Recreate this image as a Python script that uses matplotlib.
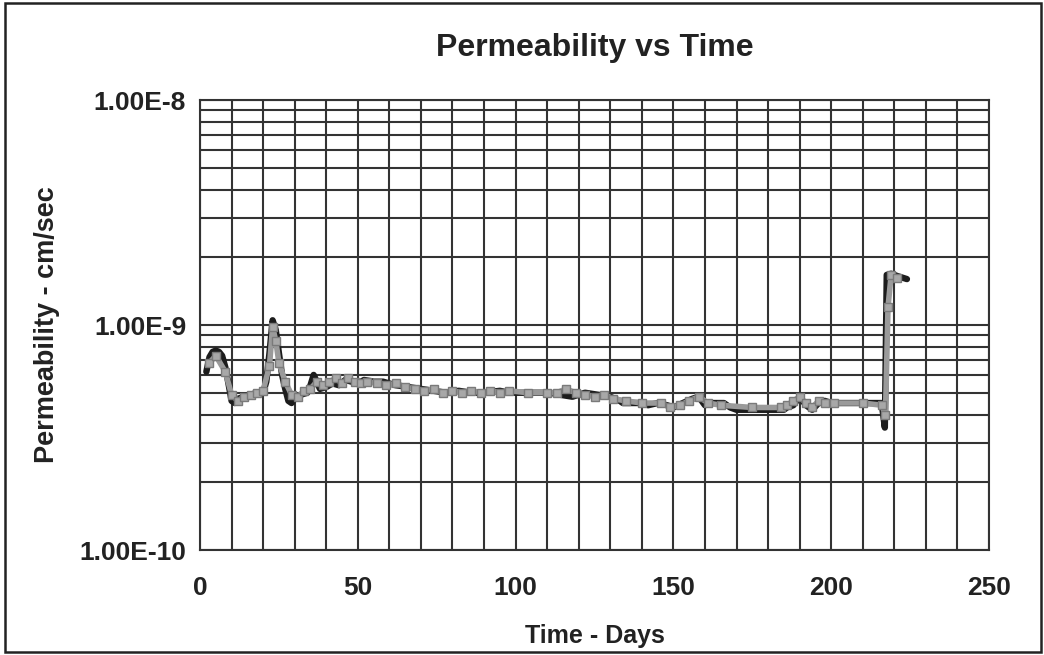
import matplotlib
matplotlib.use("Agg")
import matplotlib.pyplot as plt
from matplotlib.ticker import FixedLocator, FuncFormatter, MultipleLocator
from matplotlib.patches import Rectangle

plt.rcParams['font.family'] = ['Liberation Sans', 'DejaVu Sans']
plt.rcParams['font.weight'] = 'bold'

# dati (giorni, permeabilita' cm/sec)
black_days = [2, 3, 4, 5, 6, 7, 8, 9, 10, 11, 12, 14, 16, 18, 20, 21, 22, 23, 24, 25,
              26, 27, 28, 29, 30, 32, 34, 35, 36, 37, 38, 40, 42, 44, 46, 48, 50, 52,
              55, 58, 62, 66, 70, 74, 78, 82, 86, 90, 95, 98, 104, 111, 114, 118, 122,
              126, 130, 133, 134, 140, 142, 145, 148, 150, 153, 156, 158, 160, 162, 166,
              168, 170, 178, 185, 186, 188, 190, 192, 194, 196, 198, 200, 205, 210, 216,
              217, 217.6, 219, 221, 224]
black_perm = [6.2e-10, 7.2e-10, 7.6e-10, 7.7e-10, 7.6e-10, 7.3e-10, 6.5e-10, 5.5e-10,
              4.6e-10, 4.5e-10, 4.7e-10, 4.8e-10, 4.9e-10, 5.0e-10, 5.0e-10, 5.6e-10,
              7.5e-10, 1.05e-9, 9.5e-10, 7.5e-10, 6.0e-10, 5.2e-10, 4.6e-10, 4.5e-10,
              4.7e-10, 4.9e-10, 5.0e-10, 5.4e-10, 6.0e-10, 5.6e-10, 5.2e-10, 5.3e-10,
              5.5e-10, 5.4e-10, 5.7e-10, 5.6e-10, 5.5e-10, 5.7e-10, 5.6e-10, 5.6e-10,
              5.4e-10, 5.3e-10, 5.2e-10, 5.1e-10, 5.0e-10, 5.1e-10, 5.0e-10, 5.0e-10,
              5.1e-10, 5.0e-10, 5.0e-10, 5.0e-10, 4.9e-10, 4.8e-10, 5.0e-10, 4.9e-10,
              4.8e-10, 4.6e-10, 4.5e-10, 4.5e-10, 4.4e-10, 4.5e-10, 4.4e-10, 4.3e-10,
              4.5e-10, 4.7e-10, 4.8e-10, 4.4e-10, 4.5e-10, 4.5e-10, 4.3e-10, 4.2e-10,
              4.2e-10, 4.2e-10, 4.3e-10, 4.4e-10, 4.8e-10, 4.4e-10, 4.2e-10, 4.5e-10,
              4.6e-10, 4.5e-10, 4.5e-10, 4.5e-10, 4.5e-10, 3.5e-10, 1.67e-9, 1.69e-9,
              1.65e-9, 1.6e-9]

gray_days = [3, 5, 8, 10, 12, 14, 16, 18, 20, 22, 23, 24, 25, 27, 29, 31, 33, 35, 37,
             39, 41, 43, 45, 47, 49, 51, 53, 56, 59, 62, 65, 68, 71, 74, 77, 80, 83,
             86, 89, 92, 95, 98, 104, 110, 113, 116, 119, 122, 125, 128, 131, 135,
             140, 146, 149, 152, 155, 158, 161, 165, 175, 184, 186, 188, 190, 192,
             194, 196, 198, 201, 210, 216, 217.2, 218, 219, 221]
gray_perm = [6.8e-10, 7.3e-10, 6.2e-10, 4.9e-10, 4.6e-10, 4.8e-10, 4.9e-10, 5.0e-10,
             5.1e-10, 6.6e-10, 9.8e-10, 8.5e-10, 6.8e-10, 5.6e-10, 4.9e-10, 4.8e-10,
             5.1e-10, 5.2e-10, 5.6e-10, 5.4e-10, 5.6e-10, 5.8e-10, 5.5e-10, 5.8e-10,
             5.6e-10, 5.5e-10, 5.6e-10, 5.5e-10, 5.4e-10, 5.5e-10, 5.3e-10, 5.2e-10,
             5.1e-10, 5.2e-10, 5.0e-10, 5.1e-10, 5.0e-10, 5.1e-10, 5.0e-10, 5.1e-10,
             5.0e-10, 5.1e-10, 5.0e-10, 5.0e-10, 5.0e-10, 5.2e-10, 5.0e-10, 4.9e-10,
             4.8e-10, 4.9e-10, 4.7e-10, 4.6e-10, 4.5e-10, 4.5e-10, 4.3e-10, 4.4e-10,
             4.6e-10, 4.8e-10, 4.5e-10, 4.4e-10, 4.3e-10, 4.3e-10, 4.4e-10, 4.6e-10,
             4.8e-10, 4.5e-10, 4.3e-10, 4.6e-10, 4.5e-10, 4.5e-10, 4.5e-10, 4.4e-10,
             4.0e-10, 1.2e-9, 1.67e-9, 1.62e-9]

x_ticks = [0, 50, 100, 150, 200, 250]
y_ticks = [1e-10, 1e-9, 1e-8]

fig = plt.figure(figsize=(10.44, 6.55), dpi=100)
ax = fig.add_axes([0.1916, 0.1603, 0.7557, 0.687])

# bordo esterno del grafico
fig.patches.append(Rectangle((5 / 1044, 3 / 655), 1036 / 1044, 649 / 655,
                             transform=fig.transFigure, fill=False,
                             edgecolor='#222222', linewidth=1.8))

ax.plot(black_days, black_perm, color='#1c1c1c', linewidth=4.6,
        solid_joinstyle='round', solid_capstyle='round', zorder=3)
ax.plot(gray_days, gray_perm, color='#9a9a9a', linewidth=4.0, marker='s',
        markersize=6, markerfacecolor='#a8a8a8', markeredgecolor='#7a7a7a', zorder=4)

ax.set_yscale('log')
ax.set_xlim(0, 250)
ax.set_ylim(1e-10, 1e-8)
ax.xaxis.set_major_locator(FixedLocator(x_ticks))
ax.xaxis.set_minor_locator(MultipleLocator(10))
ax.yaxis.set_major_locator(FixedLocator(y_ticks))
ax.yaxis.set_major_formatter(FuncFormatter(lambda v, p: f"{v:.2E}".replace("E-0", "E-")))

ax.grid(True, which='both', color='#333333', linewidth=1.5)
ax.set_axisbelow(True)
for s in ax.spines.values():
    s.set_color('#333333')
    s.set_linewidth(1.5)

ax.tick_params(axis='both', which='both', length=0, labelsize=19, colors='#222222')
ax.tick_params(axis='x', pad=19)
ax.tick_params(axis='y', pad=10)

ax.set_title('Permeability vs Time', fontsize=23, fontweight='bold', color='#222222', pad=32)
ax.set_xlabel('Time - Days', fontsize=18, fontweight='bold', color='#222222', labelpad=17)
ax.set_ylabel('Permeability - cm/sec', fontsize=19.5, fontweight='bold', color='#222222', labelpad=14)

plt.savefig('out.png', dpi=100)
plt.close()
